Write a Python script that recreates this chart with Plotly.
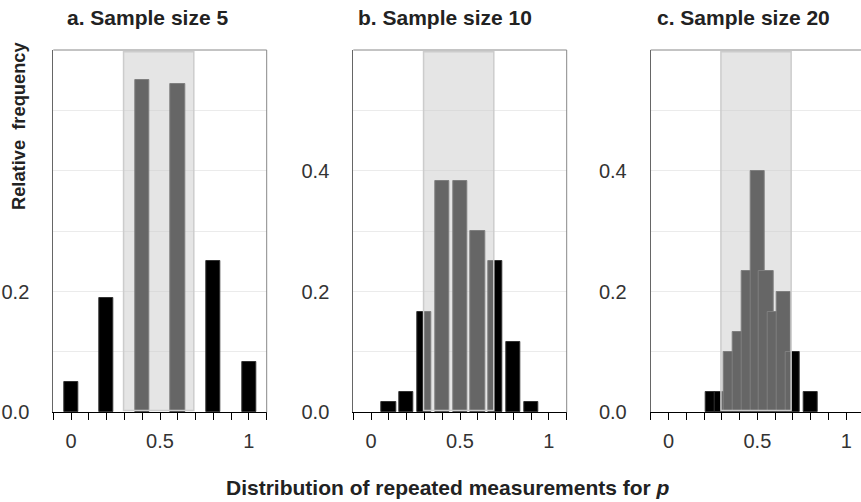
import plotly.graph_objects as go

# Relative frequencies of the estimated proportion p for three sample sizes
p_n5 = [0.0, 0.2, 0.4, 0.6, 0.8, 1.0]
freq_n5 = [0.05, 0.19, 0.55, 0.543, 0.25, 0.083]

p_n10 = [0.1, 0.2, 0.3, 0.4, 0.5, 0.6, 0.7, 0.8, 0.9]
freq_n10 = [0.0167, 0.0333, 0.1667, 0.3833, 0.3833, 0.3, 0.25, 0.1167, 0.0167]

p_n20 = [0.25, 0.3, 0.35, 0.4, 0.45, 0.5, 0.55, 0.6, 0.65, 0.7, 0.8]
freq_n20 = [0.0333, 0.0333, 0.1, 0.1333, 0.2333, 0.4, 0.2333, 0.1667, 0.2, 0.1, 0.0333]

panel_titles = ["a. Sample size 5", "b. Sample size 10", "c. Sample size 20"]

# Shaded interval of "typical" estimates
band_lo, band_hi = 0.295, 0.69

x_ticks = [round(-0.1 + 0.1 * i, 1) for i in range(13)]
x_ticktext = ["0" if v == 0 else "0.5" if v == 0.5 else "1" if v == 1 else "" for v in x_ticks]
y_ticks = [0.0, 0.1, 0.2, 0.3, 0.4, 0.5]
y_text_full = ["0.0", "", "0.2", "", "0.4", ""]
y_text_a = ["0.0", "", "0.2", "", "", ""]

W, H = 861, 502
FONT = "Liberation Sans, Arial, sans-serif"

panels = [
    (p_n5, freq_n5, (53.3, 266.7), [-0.1, 1.1], y_text_a, True),
    (p_n10, freq_n10, (353.3, 566.7), [-0.1, 1.1], y_text_full, True),
    (p_n20, freq_n20, (650.7, 861.0), [-0.1, 1.083], y_text_full, False),
]

y_dom = [(H - 412.3) / H, (H - 50.0) / H]

fig = go.Figure()
layout = dict(
    width=W, height=H, autosize=False,
    margin=dict(l=0, r=0, t=0, b=0, pad=0, autoexpand=False),
    paper_bgcolor="white", plot_bgcolor="white",
    showlegend=False, bargap=0,
    font=dict(family=FONT, color="#333333"),
)
shapes = []
annotations = []

for i, (xs, ys, (px0, px1), xr, ytext, right_edge) in enumerate(panels):
    n = "" if i == 0 else str(i + 1)
    xa, ya = "x" + n, "y" + n
    fig.add_trace(go.Bar(
        x=xs, y=ys, width=0.08, xaxis=xa, yaxis=ya,
        marker=dict(color="black", line=dict(color="#333333", width=1)),
        hoverinfo="x+y",
    ))
    layout["xaxis" + n] = dict(
        domain=[px0 / W, min(px1 / W, 1.0)], range=xr, anchor=ya,
        tickmode="array", tickvals=x_ticks, ticktext=x_ticktext,
        ticks="outside", ticklen=7, tickcolor="black", tickwidth=1,
        showline=True, linecolor="black", linewidth=1,
        showgrid=False, zeroline=False, automargin=False,
        tickfont=dict(size=20, color="#333333"), ticklabelstandoff=4,
    )
    layout["yaxis" + n] = dict(
        domain=y_dom, range=[0, 0.6], anchor=xa,
        tickmode="array", tickvals=y_ticks, ticktext=ytext,
        ticks="outside", ticklen=0, ticklabelstandoff=19,
        showline=True, linecolor="#666666", linewidth=1,
        showgrid=True, gridcolor="#ebebeb", gridwidth=1.3, zeroline=False,
        automargin=False,
        tickfont=dict(size=20, color="#333333"),
    )
    # frame: top edge, plus right edge where the panel ends inside the figure
    shapes.append(dict(type="line", xref=xa + " domain", yref=ya + " domain",
                       x0=0, x1=1, y0=1, y1=1, line=dict(color="#888888", width=1)))
    if right_edge:
        shapes.append(dict(type="line", xref=xa + " domain", yref=ya + " domain",
                           x0=1, x1=1, y0=0, y1=1, line=dict(color="#888888", width=1)))
    # translucent band over the central range
    shapes.append(dict(type="rect", xref=xa, yref=ya,
                       x0=band_lo, x1=band_hi, y0=0.003, y1=0.597,
                       fillcolor="rgba(203,203,203,0.5)",
                       line=dict(color="rgb(204,204,204)", width=1.5), layer="above"))

title_x = [147, 445, 743.5]
for t, cx in zip(panel_titles, title_x):
    annotations.append(dict(text="<b>" + t + "</b>", x=cx / W, y=1 - 17.5 / H,
                            xref="paper", yref="paper", xanchor="center", yanchor="middle",
                            showarrow=False, font=dict(size=21, color="#222222", family=FONT)))

annotations.append(dict(text="<b>Relative\u00a0\u00a0frequency</b>", x=18 / W, y=1 - 126 / H,
                        xref="paper", yref="paper", xanchor="center", yanchor="middle",
                        textangle=-90, showarrow=False,
                        font=dict(size=18.3, color="#222222", family=FONT)))
annotations.append(dict(text="<b>Distribution of repeated measurements for <i>p</i></b>",
                        x=448 / W, y=(H - 487.5) / H, xref="paper", yref="paper",
                        xanchor="center", yanchor="middle", showarrow=False,
                        font=dict(size=21, color="#222222", family=FONT)))

layout["shapes"] = shapes
layout["annotations"] = annotations
fig.update_layout(**layout)
fig.write_html("out.html")
